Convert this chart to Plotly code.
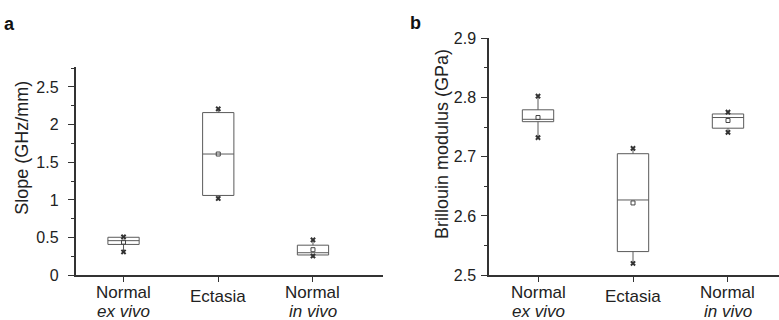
import plotly.graph_objects as go

W, H = 779, 320          # reference picture size (layout fractions are computed from it)
FIG_H = 330              # figure height so that the paper fills the captured area

cat_line1 = ["Normal", "Ectasia", "Normal"]
cat_line2 = ["ex vivo", "", "in vivo"]
cat_pos = [1, 2, 3]

# Panel a: slope (GHz/mm)
a_q1 = [0.41, 1.06, 0.27]
a_median = [0.46, 1.61, 0.30]
a_q3 = [0.505, 2.16, 0.40]
a_low = [0.31, 1.02, 0.256]
a_high = [0.505, 2.21, 0.47]
a_mean = [0.44, 1.61, 0.34]
a_min = [0.31, 1.02, 0.256]
a_max = [0.51, 2.21, 0.47]

# Panel b: Brillouin modulus (GPa)
b_q1 = [2.759, 2.540, 2.748]
b_median = [2.763, 2.627, 2.766]
b_q3 = [2.779, 2.705, 2.772]
b_low = [2.732, 2.520, 2.741]
b_high = [2.802, 2.714, 2.775]
b_mean = [2.766, 2.622, 2.761]
b_min = [2.732, 2.520, 2.741]
b_max = [2.802, 2.714, 2.775]

a_ticks = [0, 0.5, 1, 1.5, 2, 2.5]
b_ticks = [2.5, 2.6, 2.7, 2.8, 2.9]

FONT = "Liberation Sans, Arial, sans-serif"
TXT = "#222222"
AX = "#333333"
BOXC = "#5a5a5a"

def fy(px):
    return 1 - px / H

fig = go.Figure()

def add_panel(xa, ya, q1, med, q3, lo, hi, mean, mn, mx):
    fig.add_trace(go.Box(
        x=cat_pos, q1=q1, median=med, q3=q3, lowerfence=lo, upperfence=hi,
        width=0.33, whiskerwidth=0, boxpoints=False,
        line=dict(color=BOXC, width=1), fillcolor="rgba(255,255,255,0)",
        xaxis=xa, yaxis=ya, showlegend=False, hoverinfo="skip"))
    fig.add_trace(go.Scatter(
        x=cat_pos + cat_pos, y=mn + mx, mode="markers",
        marker=dict(symbol="x", size=5, color="#333333", line=dict(width=0)),
        xaxis=xa, yaxis=ya, showlegend=False, hoverinfo="skip"))
    fig.add_trace(go.Scatter(
        x=cat_pos, y=mean, mode="markers",
        marker=dict(symbol="square-open", size=4, color="#444444", line=dict(width=1)),
        xaxis=xa, yaxis=ya, showlegend=False, hoverinfo="skip"))

add_panel("x", "y", a_q1, a_median, a_q3, a_low, a_high, a_mean, a_min, a_max)
add_panel("x2", "y2", b_q1, b_median, b_q3, b_low, b_high, b_mean, b_min, b_max)

xcommon = dict(showline=True, linecolor=AX, linewidth=1.5, ticks="outside",
               ticklen=5, tickwidth=1.2, tickcolor=AX, showgrid=False, zeroline=False,
               tickvals=cat_pos, showticklabels=False)
ycommon = dict(showline=True, linecolor=AX, linewidth=1.5, ticks="outside",
               ticklen=6, tickwidth=1.2, tickcolor=AX, showgrid=False, zeroline=False,
               tickfont=dict(family=FONT, size=16, color=TXT))

annotations = [
    dict(text="<b>a</b>", x=2 / W, y=fy(16), xref="paper", yref="paper",
         xanchor="left", yanchor="middle", showarrow=False,
         font=dict(family=FONT, size=18, color="#111111")),
    dict(text="<b>b</b>", x=408 / W, y=fy(15), xref="paper", yref="paper",
         xanchor="left", yanchor="middle", showarrow=False,
         font=dict(family=FONT, size=18, color="#111111")),
    dict(text="Slope (GHz/mm)", x=22 / W, y=fy(143), xref="paper", yref="paper",
         xanchor="center", yanchor="middle", textangle=-90, showarrow=False,
         font=dict(family=FONT, size=18, color=TXT)),
    dict(text="Brillouin modulus (GPa)", x=442 / W, y=fy(139), xref="paper", yref="paper",
         xanchor="center", yanchor="middle", textangle=-90, showarrow=False,
         font=dict(family=FONT, size=18, color=TXT)),
]

for xref in ["x", "x2"]:
    for p, l1, l2 in zip(cat_pos, cat_line1, cat_line2):
        if l2:
            annotations.append(dict(text=l1, x=p, y=fy(290.5), xref=xref, yref="paper",
                                    xanchor="center", yanchor="middle", showarrow=False,
                                    borderpad=0, font=dict(family=FONT, size=17, color=TXT)))
            annotations.append(dict(text="<i>" + l2 + "</i>", x=p, y=fy(310.5), xref=xref,
                                    yref="paper", xanchor="center", yanchor="middle",
                                    showarrow=False, borderpad=0,
                                    font=dict(family=FONT, size=17, color=TXT)))
        else:
            annotations.append(dict(text=l1, x=p, y=fy(295), xref=xref, yref="paper",
                                    xanchor="center", yanchor="middle", showarrow=False,
                                    borderpad=0, font=dict(family=FONT, size=17, color=TXT)))

fig.update_layout(
    width=W, height=FIG_H,
    margin=dict(l=0, r=0, t=0, b=0),
    paper_bgcolor="white", plot_bgcolor="white",
    xaxis=dict(domain=[75.5 / W, 382.7 / W], range=[0.493, 3.736], anchor="y", **xcommon),
    yaxis=dict(domain=[fy(273.3), fy(60.7)], range=[0, 2.76], anchor="x",
               tickvals=a_ticks, ticklabelstandoff=6,
               minor=dict(dtick=0.25, tick0=0, ticks="outside", ticklen=3, tickcolor=AX, tickwidth=1),
               **ycommon),
    xaxis2=dict(domain=[489 / W, 1.0], range=[0.484, 3.537], anchor="y2", **xcommon),
    yaxis2=dict(domain=[fy(273.3), fy(30.7)], range=[2.5, 2.9], anchor="x2",
                tickvals=b_ticks, ticklabelstandoff=2,
                minor=dict(dtick=0.05, tick0=2.5, ticks="outside", ticklen=3, tickcolor=AX, tickwidth=1),
                **ycommon),
    annotations=annotations,
)

POST = (
    "document.documentElement.style.margin='0';"
    "document.documentElement.style.overflow='hidden';"
    "document.body.style.margin='0';"
    "document.body.style.overflow='hidden';"
    "var d=document.getElementById('{plot_id}');"
    "d.style.position='fixed';d.style.left='0px';d.style.top='0px';"
)

fig.write_html("out.html", config={"displayModeBar": False}, post_script=POST)
